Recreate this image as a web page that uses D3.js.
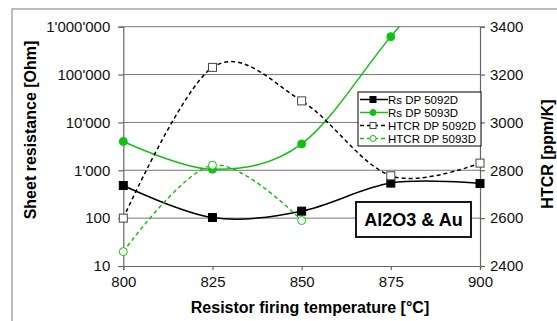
<!DOCTYPE html>
<html>
<head>
<meta charset="utf-8">
<script src="https://cdn.jsdelivr.net/npm/d3@7"></script>
<style>
  body { margin: 0; background: #fff; }
  svg { font-family: "Liberation Sans", Arial, sans-serif; }
</style>
</head>
<body>
<div id="chart"></div>
<script>
// data
const temps = [800, 825, 850, 875, 900]
const rs5092 = [480, 103, 140, 540, 530]
const rs5093 = [4000, 1050, 3550, 620000, 100000000]
const htcr5092 = [2600, 3230, 3090, 2777, 2830]
const htcr5093 = [2460, 2821, 2590]
const leftTicks = [10, 100, 1000, 10000, 100000, 1000000]
const leftTickLabels = ['10', '100', "1'000", "10'000", "100'000", "1'000'000"]
const rightTicks = [2400, 2600, 2800, 3000, 3200, 3400]
const xTicks = [800, 825, 850, 875, 900]
const legendLabels = ['Rs DP 5092D', 'Rs DP 5093D', 'HTCR DP 5092D', 'HTCR DP 5093D']

const W = 557
const H = 321
const margin = { top: 26.7, left: 123.3, right: 77, bottom: 55 }
const width = W - margin.left - margin.right
const height = H - margin.top - margin.bottom
const green = '#11c011'

const svg = d3.select('#chart').append('svg')
  .attr('width', W).attr('height', H)

// outer frame (only top and left visible in picture)
svg.append('path')
  .attr('d', `M12,${H} L12,9 L${W},9`)
  .attr('fill', 'none')
  .attr('stroke', '#a8a8a8')
  .attr('stroke-width', 1.5)

const g = svg.append('g')
  .attr('transform', `translate(${margin.left},${margin.top})`)

g.append('clipPath').attr('id', 'plot-clip')
  .append('rect').attr('width', width).attr('height', height)

const x = d3.scaleLinear().domain([800, 900]).range([0, width])
const yL = d3.scaleLog().domain([10, 1000000]).range([height, 0])
const yR = d3.scaleLinear().domain([2400, 3400]).range([height, 0])

// gridlines
g.selectAll('.grid').data(leftTicks.slice(1))
  .enter().append('line')
  .attr('x1', 0).attr('x2', width)
  .attr('y1', d => yL(d)).attr('y2', d => yL(d))
  .attr('stroke', '#777').attr('stroke-width', 1)

// axes
const xAxis = d3.axisBottom(x).tickValues(xTicks).tickSize(4).tickPadding(6)
g.append('g').attr('class', 'x-axis')
  .attr('transform', `translate(0,${height})`)
  .call(xAxis)

const yAxisL = d3.axisLeft(yL).tickValues(leftTicks)
  .tickFormat((d, i) => leftTickLabels[i]).tickSize(5).tickPadding(8)
g.append('g').attr('class', 'y-axis').call(yAxisL)

const yAxisR = d3.axisRight(yR).tickValues(rightTicks)
  .tickFormat(d3.format('d')).tickSize(5).tickPadding(5)
g.append('g').attr('class', 'y-axis-r')
  .attr('transform', `translate(${width},0)`)
  .call(yAxisR)

g.selectAll('.x-axis path, .y-axis path, .y-axis-r path, .tick line')
  .attr('stroke', '#666').attr('stroke-width', 1.2)
g.selectAll('.tick text')
  .attr('font-size', 15).attr('fill', '#111')
  .attr('font-family', '"Liberation Sans", Arial, sans-serif')

const curve = d3.curveCardinal.tension(0)
const plot = g.append('g').attr('clip-path', 'url(#plot-clip)')

function drawSeries(values, yScale, color, dashed) {
  const pts = values.map((v, i) => [x(temps[i]), yScale(v)])
  plot.append('path')
    .datum(pts)
    .attr('d', d3.line().curve(curve))
    .attr('fill', 'none')
    .attr('stroke', color)
    .attr('stroke-width', 1.5)
    .attr('stroke-dasharray', dashed ? '4 3' : null)
  return pts
}

function square(sel, pts, fill) {
  sel.selectAll(null).data(pts).enter().append('rect')
    .attr('x', d => d[0] - 4).attr('y', d => d[1] - 4)
    .attr('width', 8).attr('height', 8)
    .attr('fill', fill).attr('stroke', fill === '#000' ? '#000' : '#444')
    .attr('stroke-width', 1)
}

function circle(sel, pts, fill) {
  sel.selectAll(null).data(pts).enter().append('circle')
    .attr('cx', d => d[0]).attr('cy', d => d[1]).attr('r', 4)
    .attr('fill', fill).attr('stroke', green).attr('stroke-width', 1)
}

const p1 = drawSeries(rs5092, yL, '#000', false)
const p2 = drawSeries(rs5093, yL, green, false)
const p3 = drawSeries(htcr5092, yR, '#000', true)
const p4 = drawSeries(htcr5093, yR, green, true)

const marks = g.append('g')
square(marks, p1, '#000')
circle(marks, p2.filter(d => d[1] >= 0), green)
square(marks, p3, '#fff')
circle(marks, p4, '#fff')

// legend
const lg = svg.append('g').attr('transform', 'translate(358,92)')
lg.append('rect').attr('width', 123).attr('height', 54)
  .attr('fill', '#fff').attr('stroke', '#000').attr('stroke-width', 1)
const legendStyles = [
  { color: '#000', dash: null, shape: 'square', fill: '#000' },
  { color: green, dash: null, shape: 'circle', fill: green },
  { color: '#000', dash: '4 3', shape: 'square', fill: '#fff' },
  { color: green, dash: '4 3', shape: 'circle', fill: '#fff' }
]
legendLabels.forEach((label, i) => {
  const row = lg.append('g').attr('transform', `translate(0,${7.5 + i * 13})`)
  const st = legendStyles[i]
  row.append('line').attr('x1', 2).attr('x2', 30)
    .attr('stroke', st.color).attr('stroke-width', 1.5)
    .attr('stroke-dasharray', st.dash)
  if (st.shape === 'square') {
    square(row, [[15, 0]], st.fill)
    row.select('rect').attr('x', 12).attr('y', -3).attr('width', 6).attr('height', 6)
  } else {
    circle(row, [[15, 0]], st.fill)
    row.select('circle').attr('r', 3)
  }
  row.append('text').text(label)
    .attr('x', 30).attr('y', 4.5)
    .attr('font-size', 11.5).attr('fill', '#000')
})

// annotation box
const ab = svg.append('g').attr('transform', 'translate(356,202)')
ab.append('rect').attr('width', 115).attr('height', 35)
  .attr('fill', '#fff').attr('stroke', '#000').attr('stroke-width', 1.8)
ab.append('text').text('Al2O3 & Au')
  .attr('x', 57.5).attr('y', 24)
  .attr('text-anchor', 'middle')
  .attr('font-size', 18).attr('font-weight', 'bold')

// axis titles
svg.append('text').text('Resistor firing temperature [°C]')
  .attr('x', 310).attr('y', 313)
  .attr('text-anchor', 'middle')
  .attr('font-size', 16).attr('font-weight', 'bold')

svg.append('text').text('Sheet resistance [Ohm]')
  .attr('transform', 'translate(36,130) rotate(-90)')
  .attr('text-anchor', 'middle')
  .attr('font-size', 16).attr('font-weight', 'bold')

svg.append('text').text('HTCR [ppm/K]')
  .attr('transform', 'translate(553,154) rotate(-90)')
  .attr('text-anchor', 'middle')
  .attr('font-size', 16).attr('font-weight', 'bold')
</script>
</body>
</html>
